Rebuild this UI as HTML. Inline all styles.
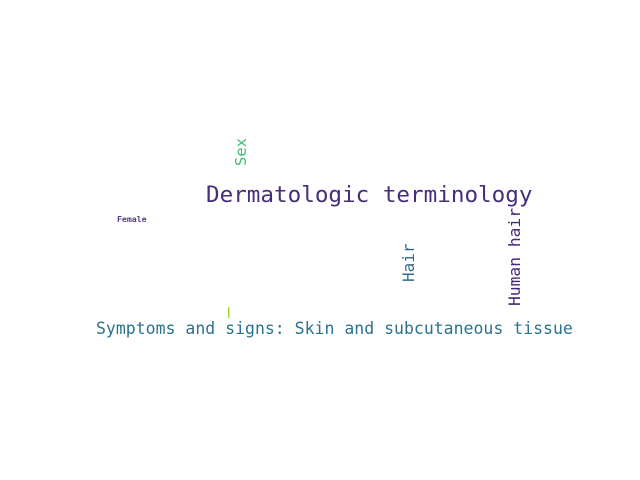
<!DOCTYPE html>
<html><head><meta charset="utf-8"><style>
html,body{margin:0;padding:0;background:#fff;}
svg{display:block;}
text{font-family:"DejaVu Sans Mono","Liberation Mono",monospace;}
</style></head><body>
<svg width="640" height="480">
<rect width="640" height="480" fill="#fff"/>
<text x="206" y="202" font-size="22.6" fill="#472d7b">Dermatologic terminology</text>
<text x="96" y="334" font-size="16.5" fill="#2c728e">Symptoms and signs: Skin and subcutaneous tissue</text>
<text transform="translate(246,166) rotate(-90)" font-size="15.5" fill="#3dbc74">Sex</text>
<text transform="translate(414,282) rotate(-90)" font-size="16" fill="#31688e">Hair</text>
<text transform="translate(520,306) rotate(-90)" font-size="16.3" fill="#482878">Human hair</text>
<text x="117" y="222" font-size="8.2" font-weight="bold" fill="#5b3a8a">Female</text>
<rect x="228" y="307" width="1.5" height="11" fill="#a0da39"/>
</svg>
</body></html>
